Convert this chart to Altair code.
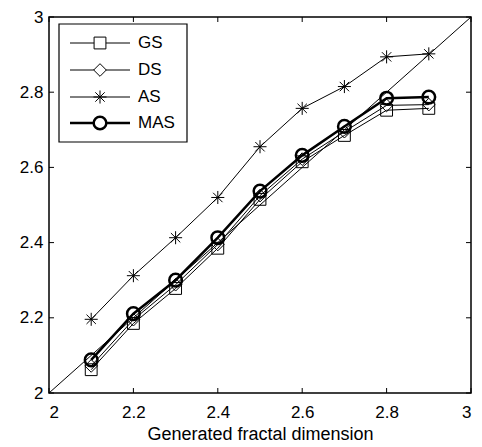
import altair as alt
import pandas as pd

series = ["GS", "DS", "AS", "MAS"]
x_vals = [2.1, 2.2, 2.3, 2.4, 2.5, 2.6, 2.7, 2.8, 2.9]
gs_vals = [2.062, 2.185, 2.278, 2.385, 2.515, 2.615, 2.685, 2.752, 2.757]
ds_vals = [2.072, 2.195, 2.288, 2.395, 2.525, 2.622, 2.695, 2.765, 2.767]
as_vals = [2.196, 2.312, 2.413, 2.520, 2.655, 2.757, 2.815, 2.894, 2.902]
mas_vals = [2.088, 2.211, 2.300, 2.413, 2.537, 2.632, 2.709, 2.784, 2.787]
ref_line = [2.0, 3.0]
tick_vals = [2.0, 2.2, 2.4, 2.6, 2.8, 3.0]

asterisk = "M-1,0L1,0M0,-1L0,1M-0.72,-0.72L0.72,0.72M-0.72,0.72L0.72,-0.72"
shapes = {"GS": "square", "DS": "diamond", "AS": asterisk, "MAS": "circle"}
sizes = {"GS": 140, "DS": 160, "AS": 170, "MAS": 160}
widths = {"GS": 1, "DS": 1, "AS": 1, "MAS": 2.5}

series_vals = {"GS": gs_vals, "DS": ds_vals, "AS": as_vals, "MAS": mas_vals}

W, H = 422, 376
FONT = "Liberation Sans"

xs = alt.Scale(domain=[2, 3], nice=False, zero=False)
ys = alt.Scale(domain=[2, 3], nice=False, zero=False)

x_axis = alt.Axis(values=tick_vals, format=".1~f", tickSize=0, labelPadding=11,
                  title="Generated fractal dimension", titlePadding=5, grid=False,
                  domain=False, labelFontSize=17, titleFontSize=18,
                  labelFont=FONT, titleFont=FONT, labelColor="black",
                  titleColor="black", titleFontWeight="normal")
y_axis = alt.Axis(values=tick_vals, format=".1~f", tickSize=0, labelPadding=6,
                  title=None, grid=False, domain=False, labelFontSize=17,
                  labelFont=FONT, labelColor="black")

X = alt.X("x:Q", scale=xs, axis=x_axis)
Y = alt.Y("y:Q", scale=ys, axis=y_axis)

layers = []
ref_df = pd.DataFrame({"x": ref_line, "y": ref_line})
layers.append(alt.Chart(ref_df).mark_line(color="black", strokeWidth=1).encode(x=X, y=Y))

for name in series:
    sdf = pd.DataFrame({"x": x_vals, "y": series_vals[name], "series": name})
    layers.append(alt.Chart(sdf).mark_line(color="black", strokeWidth=widths[name]).encode(
        x=X, y=Y, order="x:Q"))
    layers.append(alt.Chart(sdf).mark_point(
        filled=False, color="black", opacity=1, shape=shapes[name],
        size=sizes[name], strokeWidth=widths[name]).encode(x=X, y=Y))

tick_df = pd.DataFrame({"x": tick_vals, "y": tick_vals})
tk = 5
layers.append(alt.Chart(tick_df).mark_rule(color="black", strokeWidth=1).encode(
    x=X, y=alt.value(H), y2=alt.value(H - tk)))
layers.append(alt.Chart(tick_df).mark_rule(color="black", strokeWidth=1).encode(
    x=X, y=alt.value(0), y2=alt.value(tk)))
layers.append(alt.Chart(tick_df).mark_rule(color="black", strokeWidth=1).encode(
    y=Y, x=alt.value(0), x2=alt.value(tk)))
layers.append(alt.Chart(tick_df).mark_rule(color="black", strokeWidth=1).encode(
    y=Y, x=alt.value(W), x2=alt.value(W - tk)))

# legend box
one = pd.DataFrame({"k": [0]})
layers.append(alt.Chart(one).mark_rect(fill="white", stroke="black", strokeWidth=1.2).encode(
    x=alt.value(10), x2=alt.value(138), y=alt.value(7), y2=alt.value(125)))
leg_y = [26, 53, 80, 106]
for name, yy in zip(series, leg_y):
    ldf = pd.DataFrame({"series": [name]})
    layers.append(alt.Chart(ldf).mark_rule(color="black", strokeWidth=widths[name]).encode(
        x=alt.value(21), x2=alt.value(81), y=alt.value(yy)))
    layers.append(alt.Chart(ldf).mark_point(
        filled=False, color="black", fill="white", opacity=1, shape=shapes[name],
        size=sizes[name], strokeWidth=widths[name]).encode(x=alt.value(51), y=alt.value(yy)))
    layers.append(alt.Chart(ldf).mark_text(
        align="left", baseline="middle", fontSize=17, font=FONT, color="black").encode(
        x=alt.value(89), y=alt.value(yy), text="series:N"))

chart = alt.layer(*layers).properties(
    width=W, height=H,
    autosize=alt.AutoSizeParams(type="none"),
    padding={"left": 41, "top": 9, "right": 3, "bottom": 52},
    background="white",
).configure_view(stroke="black", strokeWidth=1.5)

chart.save("out.html", embed_options={"renderer": "svg", "actions": False})
